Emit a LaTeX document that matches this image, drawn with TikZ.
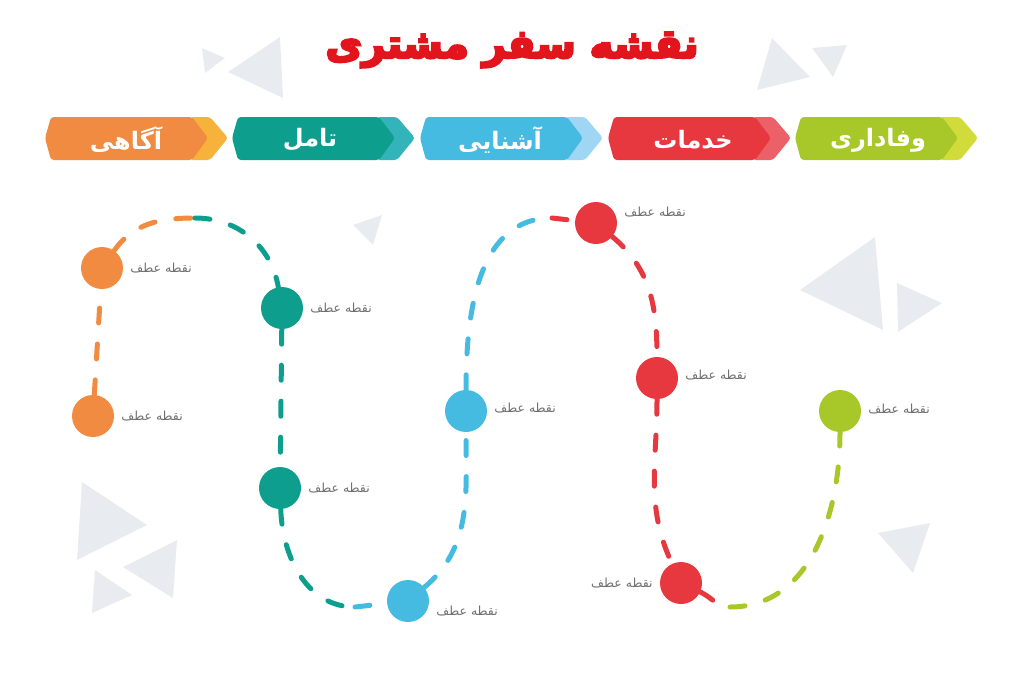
\documentclass[tikz,border=0pt]{standalone}
\usepackage{fontspec}
\usetikzlibrary{positioning}
\TeXXeTstate=1
\newfontfamily\arabicfont[Script=Arabic]{DejaVu Sans}
\newfontfamily\titlefont[Script=Arabic, FakeBold=6]{DejaVu Sans Bold}
\definecolor{co}{HTML}{F08B41}
\definecolor{colight}{HTML}{F7B23B}
\definecolor{ct}{HTML}{0E9E8D}
\definecolor{ctlight}{HTML}{33B3BA}
\definecolor{cb}{HTML}{45BBE2}
\definecolor{cblight}{HTML}{9ED6F3}
\definecolor{cr}{HTML}{E7373F}
\definecolor{crlight}{HTML}{EC6068}
\definecolor{cg}{HTML}{A8C728}
\definecolor{cglight}{HTML}{D1DC3A}
\definecolor{ctitle}{HTML}{E2141C}
\definecolor{ctip}{HTML}{6F6F6F}
\definecolor{ctri}{HTML}{E8ECF0}

\tikzset{
  milestone/.style={circle, minimum size=42pt, inner sep=0pt},
  trail/.style={line width=5pt, line cap=round, dash pattern=on 15pt off 21pt},
  tiptext/.style={inner sep=0pt, text=ctip, font=\arabicfont\fontsize{12.5}{14}\selectfont},
  stagetext/.style={inner sep=0pt, text=white, font=\arabicfont\bfseries\fontsize{24}{26}\selectfont},
  bgtri/.style={fill=ctri},
  band/.style={rounded corners=3pt}
}

\begin{document}
\begin{tikzpicture}
\useasboundingbox (0pt,0pt) rectangle (1024pt,-683pt);
% background triangles
\fill [bgtri] (202pt,-48pt) -- (225pt,-58pt) -- (205pt,-73pt) -- cycle;
\fill [bgtri] (280pt,-37pt) -- (228pt,-72pt) -- (283pt,-98pt) -- cycle;
\fill [bgtri] (772pt,-38pt) -- (757pt,-90pt) -- (810pt,-77pt) -- cycle;
\fill [bgtri] (812pt,-48pt) -- (847pt,-45pt) -- (833pt,-77pt) -- cycle;
\fill [bgtri] (353pt,-225pt) -- (382pt,-215pt) -- (373pt,-245pt) -- cycle;
\fill [bgtri] (875pt,-237pt) -- (800pt,-290pt) -- (883pt,-330pt) -- cycle;
\fill [bgtri] (897pt,-283pt) -- (942pt,-303pt) -- (898pt,-332pt) -- cycle;
\fill [bgtri] (82pt,-482pt) -- (147pt,-525pt) -- (77pt,-560pt) -- cycle;
\fill [bgtri] (177pt,-540pt) -- (123pt,-567pt) -- (173pt,-598pt) -- cycle;
\fill [bgtri] (95pt,-570pt) -- (132pt,-595pt) -- (92pt,-613pt) -- cycle;
\fill [bgtri] (878pt,-533pt) -- (930pt,-523pt) -- (913pt,-573pt) -- cycle;

% title
\node (title) [inner sep=0pt, text=ctitle, font=\titlefont\fontsize{40}{44}\selectfont] at (512pt,-50pt) {\beginR نقشه سفر مشتری\endR};

% stages
\fill [band, colight] (190pt,-117pt) -- (210pt,-117pt) -- (228pt,-138pt) -- (210pt,-160pt) -- (190pt,-160pt) -- cycle;
\fill [band, co] (45pt,-138pt) -- (51pt,-117pt) -- (192pt,-117pt) -- (208pt,-138pt) -- (192pt,-160pt) -- (51pt,-160pt) -- cycle;
\node (aware) [stagetext] at (126pt,-140pt) {\beginR آگاهی\endR};
\fill [band, ctlight] (377pt,-117pt) -- (397pt,-117pt) -- (415pt,-138pt) -- (397pt,-160pt) -- (377pt,-160pt) -- cycle;
\fill [band, ct] (232pt,-138pt) -- (238pt,-117pt) -- (379pt,-117pt) -- (395pt,-138pt) -- (379pt,-160pt) -- (238pt,-160pt) -- cycle;
\node (reflect) [stagetext] at (310pt,-140pt) {\beginR تامل\endR};
\fill [band, cblight] (565pt,-117pt) -- (585pt,-117pt) -- (603pt,-138pt) -- (585pt,-160pt) -- (565pt,-160pt) -- cycle;
\fill [band, cb] (420pt,-138pt) -- (426pt,-117pt) -- (567pt,-117pt) -- (583pt,-138pt) -- (567pt,-160pt) -- (426pt,-160pt) -- cycle;
\node (meet) [stagetext] at (500pt,-140pt) {\beginR آشنایی\endR};
\fill [band, crlight] (753pt,-117pt) -- (773pt,-117pt) -- (791pt,-138pt) -- (773pt,-160pt) -- (753pt,-160pt) -- cycle;
\fill [band, cr] (608pt,-138pt) -- (614pt,-117pt) -- (755pt,-117pt) -- (771pt,-138pt) -- (755pt,-160pt) -- (614pt,-160pt) -- cycle;
\node (serve) [stagetext] at (693pt,-140pt) {\beginR خدمات\endR};
\fill [band, cglight] (940pt,-117pt) -- (960pt,-117pt) -- (978pt,-138pt) -- (960pt,-160pt) -- (940pt,-160pt) -- cycle;
\fill [band, cg] (795pt,-138pt) -- (801pt,-117pt) -- (942pt,-117pt) -- (958pt,-138pt) -- (942pt,-160pt) -- (801pt,-160pt) -- cycle;
\node (loyal) [stagetext] at (878pt,-140pt) {\beginR وفاداری\endR};

% milestones
\node (o2) [milestone, fill=co] at (93pt,-416pt) {};
\node (o1) [milestone, fill=co] at (102pt,-268pt) {};
\node (t1) [milestone, fill=ct] at (282pt,-308pt) {};
\node (t2) [milestone, fill=ct] at (280pt,-488pt) {};
\node (b1) [milestone, fill=cb] at (466pt,-411pt) {};
\node (b2) [milestone, fill=cb] at (408pt,-601pt) {};
\node (r1) [milestone, fill=cr] at (596pt,-223pt) {};
\node (r2) [milestone, fill=cr] at (657pt,-378pt) {};
\node (r3) [milestone, fill=cr] at (681pt,-583pt) {};
\node (g1) [milestone, fill=cg] at (840pt,-411pt) {};
\coordinate (top1) at (195pt,-218pt);
\coordinate (bot1) at (355pt,-607pt);
\coordinate (top2) at (552pt,-218pt);
\coordinate (bot2) at (730pt,-607pt);

% the journey
\draw [trail, color=co] (o2) to (o1);
\draw [trail, color=co] (o1) to [out=55, in=180] (top1);
\draw [trail, color=ct] (top1) to [out=0, in=100] (t1);
\draw [trail, color=ct] (t1) to (t2);
\draw [trail, color=ct] (t2) to [out=-88, in=180] (bot1);
\draw [trail, color=cb] (bot1) to (b2);
\draw [trail, color=cb] (b2) to [out=40, in=-90] (b1);
\draw [trail, color=cb] (b1) to [out=90, in=180] (top2);
\draw [trail, color=cr] (top2) to (r1);
\draw [trail, color=cr] (r1) to [out=-40, in=90] (r2);
\draw [trail, color=cr] (r2) to [out=-90, in=115] (r3);
\draw [trail, color=cr] (r3) to [out=-25, in=180] (bot2);
\draw [trail, color=cg] (bot2) to [out=0, in=-90] (g1);

% labels
\node (o1t) [tiptext, right=7pt of o1] {\beginR نقطه عطف\endR};
\node (o2t) [tiptext, right=7pt of o2] {\beginR نقطه عطف\endR};
\node (t1t) [tiptext, right=7pt of t1] {\beginR نقطه عطف\endR};
\node (t2t) [tiptext, right=7pt of t2] {\beginR نقطه عطف\endR};
\node (b1t) [tiptext, right=7pt of b1, yshift=3pt] {\beginR نقطه عطف\endR};
\node (b2t) [tiptext, right=7pt of b2, yshift=-10pt] {\beginR نقطه عطف\endR};
\node (r1t) [tiptext, right=7pt of r1, yshift=11pt] {\beginR نقطه عطف\endR};
\node (r2t) [tiptext, right=7pt of r2, yshift=3pt] {\beginR نقطه عطف\endR};
\node (r3t) [tiptext, left=7pt of r3] {\beginR نقطه عطف\endR};
\node (g1t) [tiptext, right=7pt of g1, yshift=2pt] {\beginR نقطه عطف\endR};
\end{tikzpicture}
\end{document}
